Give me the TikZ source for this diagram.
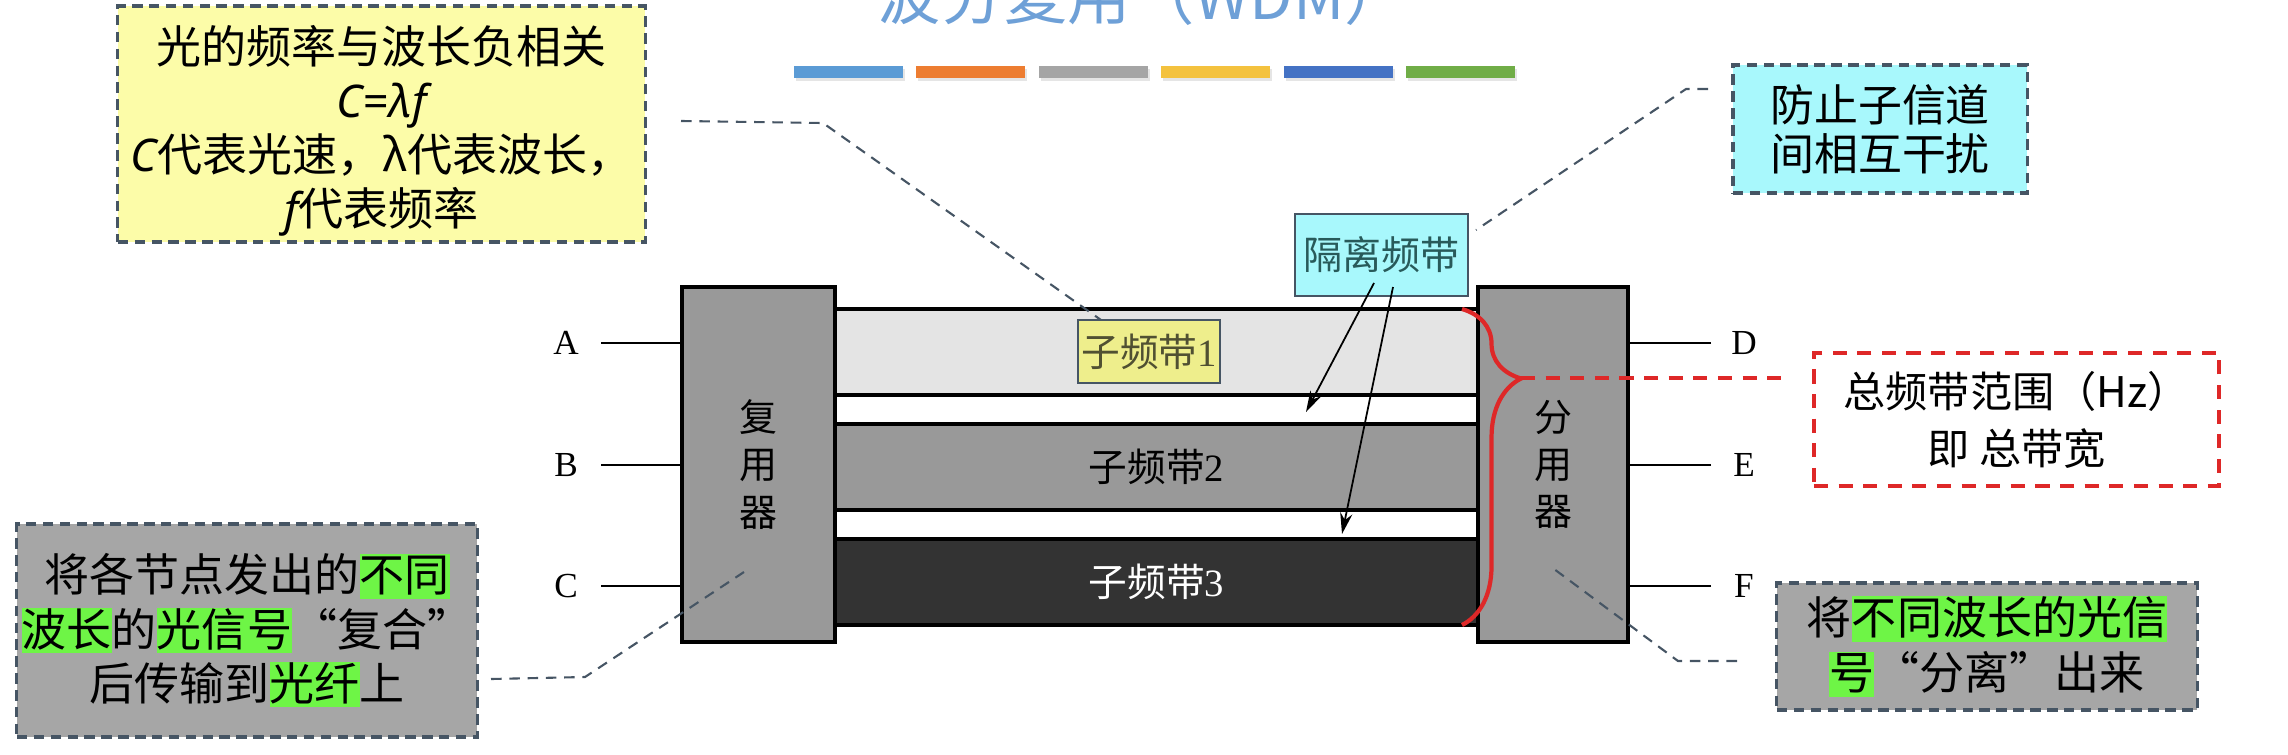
\documentclass[tikz,border=0pt]{standalone}
\usepackage{fontspec}
\setmainfont{Liberation Serif}
\newfontfamily\cjk{Noto Sans CJK SC}
\newfontfamily\nsans{Noto Sans}
\usetikzlibrary{arrows.meta,decorations.pathreplacing}
\definecolor{slate}{RGB}{70,85,100}
\definecolor{muxgray}{RGB}{153,153,153}
\definecolor{bandone}{RGB}{228,228,228}
\definecolor{bandtwo}{RGB}{153,153,153}
\definecolor{bandthree}{RGB}{51,51,51}
\definecolor{notegray}{RGB}{166,166,166}
\definecolor{hlgreen}{RGB}{110,245,70}
\definecolor{noteyellow}{RGB}{252,252,168}
\definecolor{notecyan}{RGB}{168,248,252}
\definecolor{subyellow}{RGB}{238,238,140}
\definecolor{redline}{RGB}{222,40,40}
\definecolor{titleblue}{RGB}{110,160,215}
\definecolor{barA}{RGB}{91,155,213}
\definecolor{barB}{RGB}{237,125,49}
\definecolor{barC}{RGB}{165,165,165}
\definecolor{barD}{RGB}{244,194,62}
\definecolor{barE}{RGB}{68,114,196}
\definecolor{barF}{RGB}{112,173,71}
\newcommand\hlg[1]{{\setlength\fboxsep{0pt}\colorbox{hlgreen}{\rule[-0.16em]{0pt}{1.0em}#1}}}
\tikzset{
  wire/.style={line width=0.6pt},
  blk/.style={draw=black, line width=1.3pt, fill=muxgray, align=center, inner sep=0pt,
    font=\cjk\fontsize{10.8}{13.4}\selectfont},
  band/.style={draw=black, line width=1.1pt, minimum width=6.43cm, minimum height=0.86cm, inner sep=0pt,
    font=\fontsize{11}{13}\selectfont},
  lab/.style={font=\fontsize{10}{12}\selectfont, inner sep=0pt},
  notebox/.style={draw=slate, dash pattern=on 3pt off 1.8pt, line width=0.9pt, align=center, inner sep=0pt},
  lead/.style={draw=slate, dash pattern=on 3pt off 2.2pt, line width=0.6pt},
  pointer/.style={line width=0.5pt, -{Stealth[length=6pt,width=3.5pt]}},
}
\begin{document}
\begin{tikzpicture}[x=0.01cm, y=-0.01cm]
\useasboundingbox (0,0) rectangle (2288,754);

% title (cut off at the top, as in the reference)
\node[anchor=base, text=titleblue, font=\cjk\fontsize{18}{20}\selectfont, inner sep=0pt] (title) at (1143,19) {波分复用（WDM）};

% colour bars
\foreach \c [count=\i from 0] in {barA,barB,barC,barD,barE,barF} {
  \fill[black, opacity=0.10] (796+122.4*\i,69) rectangle ++(109,12);
  \fill[\c] (794+122.4*\i,66) rectangle ++(109,12);
}

% bands
\node[band, fill=bandone] (b1) at (1156.5,352) {};
\node[band, fill=bandtwo] (b2) at (1156.5,467) {{\cjk 子频带}2};
\node[band, fill=bandthree, text=white] (b3) at (1156.5,582) {{\cjk 子频带}3};

% multiplexer / demultiplexer
\node[blk, minimum width=1.53cm, minimum height=3.55cm] (mux) at (758.5,464.5) {复\\用\\器};
\node[blk, minimum width=1.50cm, minimum height=3.55cm] (demux) at (1553,464.5) {分\\用\\器};

% inputs and outputs
\node[lab] (A) at (566,343) {A};
\node[lab] (B) at (566,465) {B};
\node[lab] (C) at (566,586) {C};
\node[lab] (D) at (1744,343) {D};
\node[lab] (E) at (1744,465) {E};
\node[lab] (F) at (1744,586) {F};
\coordinate (a0) at (601,343);
\coordinate (b0) at (601,465);
\coordinate (c0) at (601,586);
\coordinate (d0) at (1711,343);
\coordinate (e0) at (1711,465);
\coordinate (f0) at (1711,586);
\draw[wire] (a0) -- (a0 -| mux.west);
\draw[wire] (b0) -- (b0 -| mux.west);
\draw[wire] (c0) -- (c0 -| mux.west);
\draw[wire] (d0) -- (d0 -| demux.east);
\draw[wire] (e0) -- (e0 -| demux.east);
\draw[wire] (f0) -- (f0 -| demux.east);

% sub-band 1 label
\node[draw=slate, line width=0.6pt, fill=subyellow, minimum width=1.42cm, minimum height=0.63cm, inner sep=0pt,
  text={rgb,255:red,80;green,80;blue,50}, font=\fontsize{11}{13}\selectfont] (sb1) at (1149,351.5) {{\cjk 子频带}1};

% guard band label
\node[draw=slate, line width=0.6pt, fill=notecyan, minimum width=1.73cm, minimum height=0.82cm, inner sep=0pt,
  text={rgb,255:red,40;green,90;blue,90}, font=\cjk\fontsize{11.1}{13}\selectfont] (gl) at (1381.5,255) {隔离频带};
\coordinate (g1s) at (1374,283);
\coordinate (g1e) at (1306,412);
\coordinate (g2s) at (1393,287);
\coordinate (g2e) at (1342,534);
\draw[pointer] (g1s) -- (g1e);
\draw[pointer] (g2s) -- (g2e);

% brace
\coordinate (brtop) at (1462,309);
\coordinate (brbot) at (1462,625);
\coordinate (tip) at (1521,378);
\draw[redline, line width=1.2pt, decorate, decoration={brace, amplitude=0.59cm, aspect=0.22}] (brtop) -- (brbot);

% notes
\node[notebox, fill=noteyellow, minimum width=5.27cm, minimum height=2.36cm] (tl) at (381.5,124) {};
\node[align=center, inner sep=0pt, font=\cjk\fontsize{12.8}{15.3}\selectfont] (tltext) at (381.5,131)
  {光的频率与波长负相关\\{\nsans\itshape C=λf}\\{\nsans\itshape C}代表光速，λ代表波长，\\{\nsans\itshape f}代表频率};
\node[notebox, fill=notecyan, minimum width=2.94cm, minimum height=1.28cm,
  font=\cjk\fontsize{12.5}{14}\selectfont] (cy) at (1880,129) {防止子信道\\间相互干扰};
\node[draw=redline, dash pattern=on 4pt off 3pt, line width=1.1pt, fill=white, align=center, inner sep=0pt,
  minimum width=4.05cm, minimum height=1.33cm, font=\cjk\fontsize{12}{16.2}\selectfont] (rb) at (2016.5,419.5)
  {总频带范围（Hz）\\即 总带宽};
\node[notebox, fill=notegray, minimum width=4.6cm, minimum height=2.13cm,
  font=\cjk\fontsize{12.8}{15.4}\selectfont] (lg) at (247,630.5)
  {将各节点发出的\hlg{不同}\\\hlg{波长}的\hlg{光信号}“复合”\\后传输到\hlg{光纤}上};
\node[notebox, fill=notegray, minimum width=4.2cm, minimum height=1.27cm,
  font=\cjk\fontsize{12.8}{15.6}\selectfont] (rg) at (1987,646.5)
  {将\hlg{不同波长的光信}\\\hlg{号}“分离”出来};

% leaders
\coordinate (l1s) at (681,121);
\coordinate (l1m) at (823,123);
\coordinate (l1e) at (1101,320);
\draw[lead] (l1s) -- (l1m) -- (l1e);
\coordinate (l2s) at (1708,89);
\coordinate (l2m) at (1686,89);
\coordinate (l2e) at (1476,230);
\draw[lead] (l2s) -- (l2m) -- (l2e);
\coordinate (l3s) at (491,679);
\coordinate (l3m) at (585,677);
\coordinate (l3e) at (744,572);
\draw[lead] (l3s) -- (l3m) -- (l3e);
\coordinate (l4s) at (1737,661);
\coordinate (l4m) at (1678,661);
\coordinate (l4e) at (1554,569);
\draw[lead] (l4s) -- (l4m) -- (l4e);
\coordinate (rdend) at (1781,378);
\draw[redline, dash pattern=on 4pt off 3pt, line width=1.1pt] (tip) -- (rdend);
\end{tikzpicture}
\end{document}
